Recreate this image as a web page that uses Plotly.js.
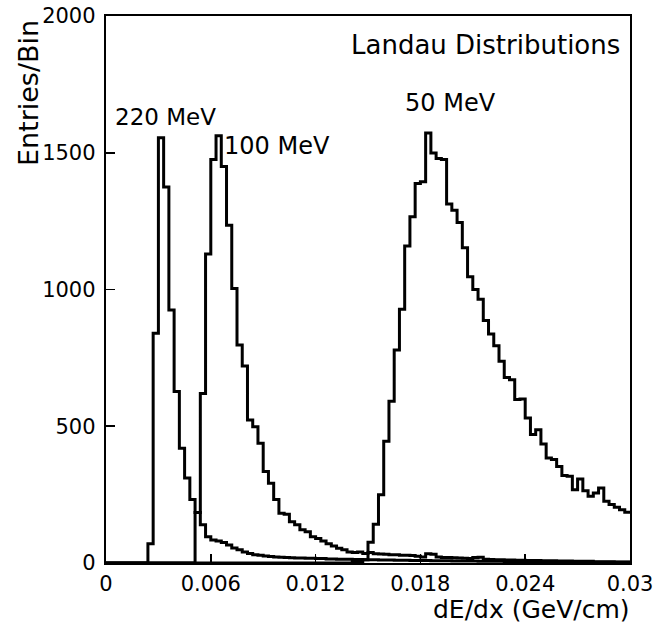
<!DOCTYPE html>
<html>
<head>
<meta charset="utf-8">
<script src="https://cdn.plot.ly/plotly-3.0.1.min.js"></script>
<style>
  html, body { margin: 0; padding: 0; background: #fff; }
  #chart { width: 656px; height: 625px; }
</style>
</head>
<body>
<div id="chart"></div>
<script>
// ---- data ----
const binWidth = 0.0003;   // GeV/cm per bin
const nBins = 100;

const counts220 = [
  0, 0, 0, 0, 0, 0, 0, 0, 70, 840,
  1555, 1375, 925, 627, 420, 311, 232, 185, 140, 96,
  84, 80, 75, 66, 55, 48, 40, 35, 30, 28,
  26, 24, 22, 21, 20, 19, 18, 18, 17, 17,
  16, 16, 15, 15, 14, 14, 14, 13, 13, 12,
  12, 12, 11, 11, 11, 10, 10, 10, 9, 9,
  9, 9, 8, 8, 8, 8, 7, 7, 7, 7,
  7, 6, 6, 6, 6, 6, 5, 5, 5, 5,
  5, 5, 5, 4, 4, 4, 4, 4, 4, 4,
  4, 3, 3, 3, 3, 3, 3, 3, 3, 3
];

const counts100 = [
  0, 0, 0, 0, 0, 0, 0, 0, 0, 0,
  0, 0, 0, 0, 0, 0, 0, 185, 620, 1130,
  1475, 1562, 1450, 1235, 1004, 797, 720, 523, 498, 438,
  335, 292, 232, 182, 178, 151, 140, 122, 114, 96,
  90, 80, 70, 62, 54, 48, 40, 38, 40, 35,
  38, 34, 33, 32, 30, 30, 28, 28, 27, 25,
  22, 34, 32, 22, 20, 20, 19, 18, 17, 16,
  20, 21, 14, 13, 12, 12, 11, 11, 10, 10,
  9, 9, 9, 8, 8, 8, 7, 7, 7, 6,
  6, 6, 6, 5, 5, 5, 5, 4, 4, 4
];

const counts50 = [
  0, 0, 0, 0, 0, 0, 0, 0, 0, 0,
  0, 0, 0, 0, 0, 0, 0, 0, 0, 0,
  0, 0, 0, 0, 0, 0, 0, 0, 0, 0,
  0, 0, 0, 0, 0, 0, 0, 0, 0, 0,
  0, 0, 0, 0, 0, 0, 0, 2, 5, 12,
  76, 142, 250, 445, 591, 779, 928, 1159, 1266, 1388,
  1394, 1572, 1499, 1479, 1475, 1313, 1290, 1245, 1153, 1047,
  1000, 964, 887, 837, 794, 738, 678, 670, 598, 600,
  530, 470, 487, 435, 384, 378, 353, 320, 317, 268,
  307, 264, 244, 256, 274, 226, 214, 204, 195, 186
];

const seriesLabels = ["220 MeV", "100 MeV", "50 MeV"];
const xTickVals = [0, 0.006, 0.012, 0.018, 0.024, 0.03];
const xTickText = ["0", "0.006", "0.012", "0.018", "0.024", "0.03"];
const yTickVals = [0, 500, 1000, 1500, 2000];
const yTickText = ["0", "500", "1000", "1500", "2000"];
const chartTitle = "Landau Distributions";
const xTitle = "dE/dx (GeV/cm)";
const yTitle = "Entries/Bin";

// ---- build step outlines from bin edges ----
const binEdges = [];
for (let i = 0; i <= nBins; i++) binEdges.push(+(i * binWidth).toFixed(6));

function stepTrace(counts, name) {
  const ys = counts.concat([counts[counts.length - 1]]);
  return {
    type: "scatter",
    mode: "lines",
    name: name,
    x: binEdges,
    y: ys,
    line: { shape: "hv", color: "#000", width: 3 },
    hoverinfo: "skip"
  };
}

const traces = [
  stepTrace(counts220, seriesLabels[0]),
  stepTrace(counts100, seriesLabels[1]),
  stepTrace(counts50, seriesLabels[2])
];

const FONT = "DejaVu Sans, Verdana, sans-serif";

const layout = {
  width: 656,
  height: 625,
  margin: { l: 106, r: 26, t: 16, b: 62, pad: 0 },
  paper_bgcolor: "#fff",
  plot_bgcolor: "#fff",
  showlegend: false,
  font: { family: FONT, color: "#000", size: 21 },
  xaxis: {
    range: [0, 0.03],
    tickmode: "array",
    tickvals: xTickVals,
    ticktext: xTickText,
    ticks: "inside",
    ticklen: 9,
    tickwidth: 1.6,
    tickcolor: "#000",
    showline: true,
    linecolor: "#000",
    linewidth: 2.2,
    mirror: true,
    showgrid: false,
    zeroline: false,
    tickfont: { family: FONT, size: 21, color: "#000" },
    ticklabelstandoff: 1,
    fixedrange: true
  },
  yaxis: {
    range: [0, 2000],
    tickmode: "array",
    tickvals: yTickVals,
    ticktext: yTickText,
    ticks: "inside",
    ticklen: 9,
    tickwidth: 1.6,
    tickcolor: "#000",
    showline: true,
    linecolor: "#000",
    linewidth: 2.2,
    mirror: true,
    showgrid: false,
    zeroline: false,
    tickfont: { family: FONT, size: 21, color: "#000" },
    ticklabelstandoff: 4,
    fixedrange: true
  },
  annotations: [
    { text: chartTitle, xref: "paper", yref: "paper", x: 0.985, y: 0.947,
      xanchor: "right", yanchor: "middle", showarrow: false,
      font: { family: FONT, size: 26, color: "#000" } },
    { text: seriesLabels[0], xref: "x", yref: "y", x: 0.0004, y: 1630,
      xanchor: "left", yanchor: "middle", showarrow: false,
      font: { family: FONT, size: 23, color: "#000" } },
    { text: seriesLabels[1], xref: "x", yref: "y", x: 0.00664, y: 1524,
      xanchor: "left", yanchor: "middle", showarrow: false,
      font: { family: FONT, size: 24, color: "#000" } },
    { text: seriesLabels[2], xref: "x", yref: "y", x: 0.0170, y: 1682,
      xanchor: "left", yanchor: "middle", showarrow: false,
      font: { family: FONT, size: 24, color: "#000" } },
    { text: xTitle, xref: "paper", yref: "paper", x: 1.004, y: -0.0855,
      xanchor: "right", yanchor: "middle", showarrow: false,
      font: { family: FONT, size: 25, color: "#000" } },
    { text: yTitle, xref: "paper", yref: "paper", x: -0.149, y: 0.996,
      xanchor: "center", yanchor: "top", showarrow: false, textangle: -90,
      font: { family: FONT, size: 27, color: "#000" } }
  ]
};

Plotly.newPlot("chart", traces, layout, { staticPlot: true, displayModeBar: false });
</script>
</body>
</html>
